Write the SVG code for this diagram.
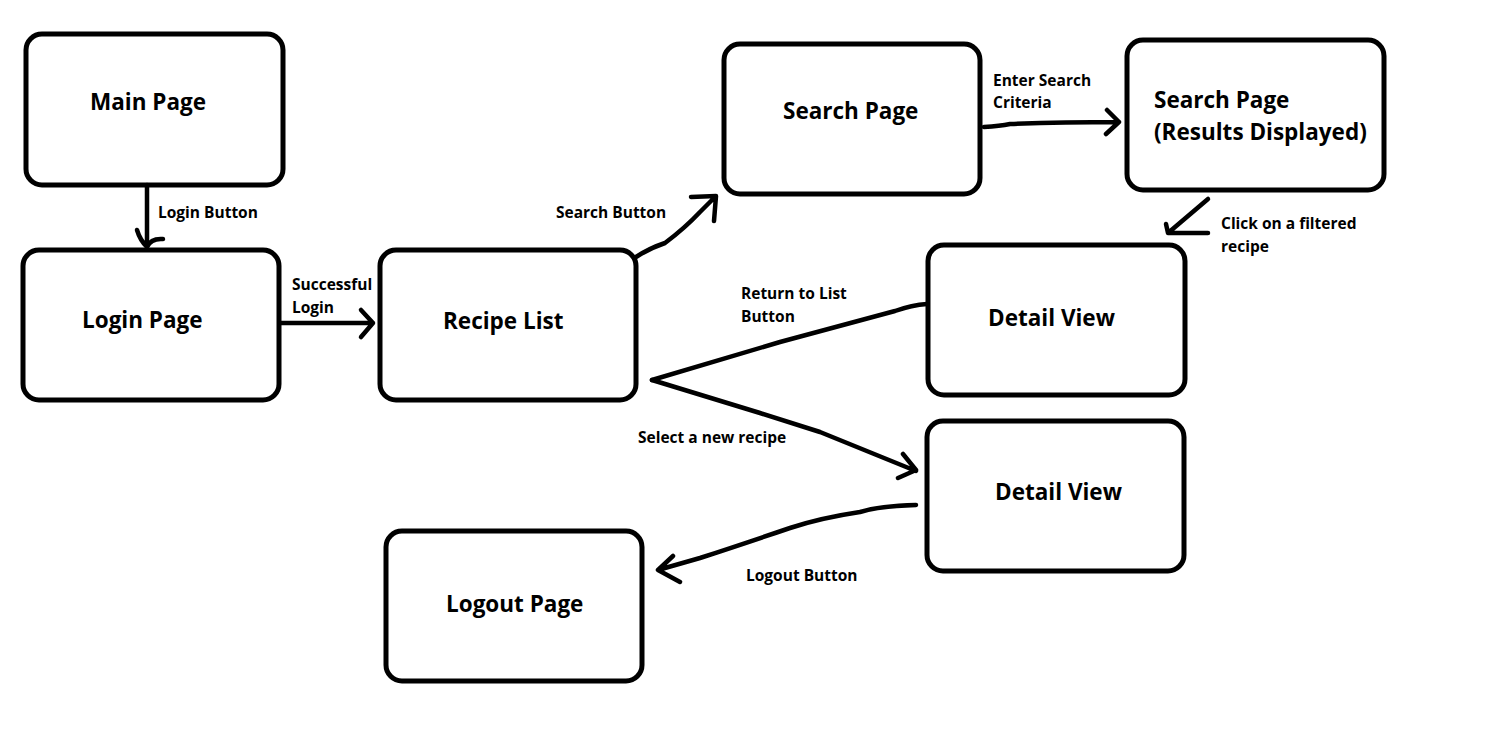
<svg xmlns="http://www.w3.org/2000/svg" width="1500" height="739" viewBox="0 0 1500 739">
<style>
.box{fill:#fff;stroke:#000;stroke-width:5}
.t{font-family:"Open Sans","Liberation Sans",sans-serif;font-weight:bold;font-size:22.5px;fill:#000}
.l{font-family:"Open Sans","Liberation Sans",sans-serif;font-weight:bold;font-size:15.5px;fill:#000}
.c{fill:none;stroke:#000;stroke-width:4.5;stroke-linecap:round;stroke-linejoin:round}
</style>
<rect width="1500" height="739" fill="#fff"/>
<g id="main-page"><rect class="box" x="26" y="34" width="257" height="151" rx="16"/><text class="t" x="90" y="110">Main Page</text></g>
<g id="login-page"><rect class="box" x="23" y="250" width="256" height="150" rx="16"/><text class="t" x="82" y="328">Login Page</text></g>
<g id="recipe-list"><rect class="box" x="380" y="250" width="256" height="150" rx="16"/><text class="t" x="443" y="329">Recipe List</text></g>
<g id="search-page"><rect class="box" x="724" y="44" width="256" height="150" rx="16"/><text class="t" x="783" y="119">Search Page</text></g>
<g id="search-results"><rect class="box" x="1127" y="40" width="257" height="150" rx="16"/><text class="t" x="1154" y="108">Search Page</text><text class="t" x="1154" y="140">(Results Displayed)</text></g>
<g id="detail-view-1"><rect class="box" x="928" y="245" width="257" height="150" rx="16"/><text class="t" x="988" y="326">Detail View</text></g>
<g id="detail-view-2"><rect class="box" x="927" y="421" width="257" height="150" rx="16"/><text class="t" x="995" y="500">Detail View</text></g>
<g id="logout-page"><rect class="box" x="386" y="531" width="256" height="150" rx="16"/><text class="t" x="446" y="612">Logout Page</text></g>
<g id="connectors">
<path class="c" d="M147,185 L147,247 M137,230 Q140,240 147,247 Q151,238 163,239"/>
<path class="c" d="M281,323 L373,323 M361,310 L373,323 L361,337"/>
<path class="c" d="M636,257 Q650,248 665,243 Q685,228 700,212 L714,198 M691,197 L716,196 L714,221"/>
<path class="c" d="M984,127 Q1000,126 1010,124 Q1060,122 1119,122 M1107,110 L1119,122 L1106,134"/>
<path class="c" d="M1208,199 L1168,233 L1208,233 M1166,224 L1168,233"/>
<path class="c" d="M927,304 Q912,305 895,311 L780,342 L652,380"/>
<path class="c" d="M652,380 L760,413 L820,432 L916,471 M903,454 L916,470 L898,478"/>
<path class="c" d="M916,505 Q880,506 860,512 Q820,518 790,528 Q740,545 700,558 L658,570 M673,556 L658,570 L680,582"/>
<text class="l" x="158" y="218">Login Button</text>
<text class="l" x="292" y="290">Successful</text>
<text class="l" x="292" y="313">Login</text>
<text class="l" x="556" y="218">Search Button</text>
<text class="l" x="993" y="86">Enter Search</text>
<text class="l" x="993" y="108">Criteria</text>
<text class="l" x="1221" y="229">Click on a filtered</text>
<text class="l" x="1221" y="252">recipe</text>
<text class="l" x="741" y="299">Return to List</text>
<text class="l" x="741" y="322">Button</text>
<text class="l" x="638" y="443">Select a new recipe</text>
<text class="l" x="746" y="581">Logout Button</text>
</g>
</svg>
